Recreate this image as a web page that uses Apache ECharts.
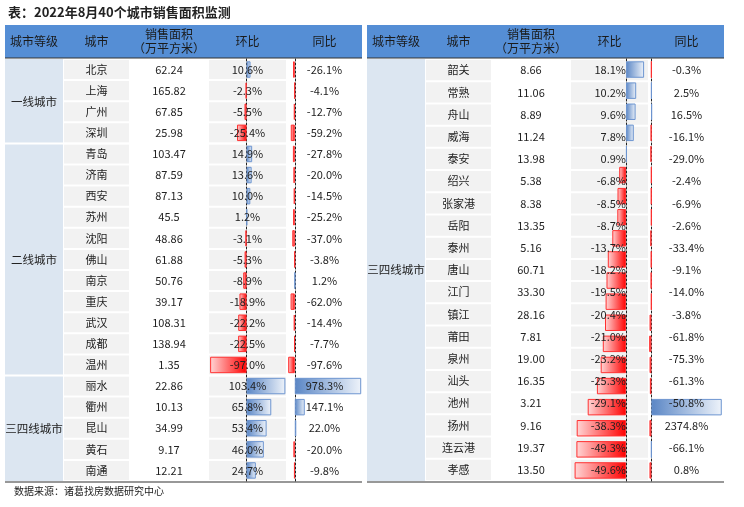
<!DOCTYPE html>
<html><head><meta charset="utf-8">
<script src="https://cdn.jsdelivr.net/npm/echarts@6/dist/echarts.min.js"></script>
<style>body{margin:0;background:#fff}#c{width:744px;height:507px}</style>
</head><body><div id="c"></div>
<script>
// 左表
const leftLevels = [['一线城市', 4], ['二线城市', 11], ['三四线城市', 5]];
const leftCities = ['北京','上海','广州','深圳','青岛','济南','西安','苏州','沈阳','佛山','南京','重庆','武汉','成都','温州','丽水','衢州','昆山','黄石','南通'];
const leftArea = ['62.24','165.82','67.85','25.98','103.47','87.59','87.13','45.5','48.86','61.88','50.76','39.17','108.31','138.94','1.35','22.86','10.13','34.99','9.17','12.21'];
const leftMom = [10.6,-2.3,-5.5,-25.4,14.9,13.6,10.0,1.2,-3.1,-5.3,-8.9,-18.9,-22.2,-22.5,-97.0,103.4,65.8,53.4,46.0,24.7];
const leftYoy = [-26.1,-4.1,-12.7,-59.2,-27.8,-20.0,-14.5,-25.2,-37.0,-3.8,1.2,-62.0,-14.4,-7.7,-97.6,978.3,147.1,22.0,-20.0,-9.8];
// 右表
const rightLevels = [['三四线城市', 19]];
const rightCities = ['韶关','常熟','舟山','威海','泰安','绍兴','张家港','岳阳','泰州','唐山','江门','镇江','莆田','泉州','汕头','池州','扬州','连云港','孝感','芜湖'].slice(0,19);
const rightArea = ['8.66','11.06','8.89','11.24','13.98','5.38','8.38','13.35','5.16','60.71','33.30','28.16','7.81','19.00','16.35','3.21','9.16','19.37','13.50','7.33'];
const rightMom = [18.1,10.2,9.6,7.8,0.9,-6.8,-8.5,-8.7,-13.7,-18.2,-19.5,-20.4,-21.0,-23.2,-25.3,-29.1,-38.3,-49.3,-49.6,-51.4];
const rightYoy = [-0.3,2.5,16.5,-16.1,-29.0,-2.4,-6.9,-2.6,-33.4,-9.1,-14.0,-3.8,-61.8,-75.3,-61.3,-50.8,2374.8,-66.1,0.8,-64.5];
const rightCityList = ['韶关','常熟','舟山','威海','泰安','绍兴','张家港','岳阳','泰州','唐山','江门','镇江','莆田','泉州','汕头','池州','扬州','连云港','孝感','芜湖'];
const headers = ['城市等级','城市','销售面积\n（万平方米）','环比','同比'];

const font = '"Noto Sans CJK SC", sans-serif';
const TOP = 59, BOTTOM = 481;

function tableGraphic(x0, cols, levels, cities, area, mom, yoy, momLabelAlign) {
  const g = [];
  const n = cities.length, rh = (BOTTOM - TOP) / n;
  const bg = ['#dce6f1', '#f2f2f2', '#ffffff', '#f2f2f2', '#ffffff'];
  let x = x0;
  const xs = cols.map(w => { const v = x; x += w; return v; });
  const W = x - x0;
  // header
  g.push({type:'rect', shape:{x:x0, y:25, width:W, height:33}, style:{fill:'#558ed5'}});
  headers.forEach((h, i) => g.push({type:'text', x:xs[i] + cols[i]/2, y:41,
    style:{text:h, font:'12px ' + font, fill:'#1a1a1a', align:'center', verticalAlign:'middle', lineHeight:14}}));
  g.push({type:'line', shape:{x1:x0, y1:58, x2:x0+W, y2:58}, style:{stroke:'#333', lineWidth:1.2}});
  // cells
  for (let r = 0; r < n; r++) {
    const y = TOP + r * rh;
    for (let c = 1; c < 5; c++) {
      g.push({type:'rect', shape:{x:xs[c]+1, y:y+1, width:cols[c]-2, height:rh-2}, style:{fill:bg[c]}});
    }
    const cy = y + rh/2;
    const t = (s, cx, al) => g.push({type:'text', x:cx, y:cy, z:10,
      style:{text:s, font:'11px ' + font, fill:'#222', align:al || 'center', verticalAlign:'middle'}});
    t(cities[r], xs[1] + cols[1]/2);
    t(area[r], xs[2] + cols[2]/2);
    if (momLabelAlign) t(mom[r].toFixed(1) + '%', momLabelAlign, 'right');
    else t(mom[r].toFixed(1) + '%', xs[3] + cols[3]/2);
    t(yoy[r].toFixed(1) + '%', xs[4] + cols[4]/2);
  }
  // level merged cells
  let r0 = 0;
  levels.forEach(([name, k]) => {
    const y = TOP + r0 * rh;
    g.push({type:'rect', shape:{x:x0, y:y, width:cols[0], height:k*rh}, style:{fill:'#dce6f1'}});
    if (r0 > 0) g.push({type:'line', shape:{x1:x0, y1:y, x2:x0+W, y2:y}, style:{stroke:'#fff', lineWidth:2}});
    g.push({type:'text', x:x0 + cols[0]/2, y:y + k*rh/2,
      style:{text:name, font:'11.5px ' + font, fill:'#222', align:'center', verticalAlign:'middle'}});
    r0 += k;
  });
  g.push({type:'line', shape:{x1:x0, y1:BOTTOM+1, x2:x0+W, y2:BOTTOM+1}, style:{stroke:'#333', lineWidth:1.2}});
  return g;
}

const blueGrad = new echarts.graphic.LinearGradient(0,0,1,0,[{offset:0,color:'#5a86c5'},{offset:1,color:'#eef3fa'}]);
const redGrad = new echarts.graphic.LinearGradient(0,0,1,0,[{offset:0,color:'#ffd6d6'},{offset:1,color:'#ff0000'}]);
const barData = arr => arr.map(v => ({value:v, itemStyle: v >= 0
  ? {color:blueGrad, borderColor:'#6d95d0', borderWidth:1}
  : {color:redGrad, borderColor:'#ff3030', borderWidth:1}}));

const grids = [], xAxes = [], yAxes = [], series = [];
function barGrid(left, width, min, max, data, n) {
  const i = grids.length;
  grids.push({left:left, width:width, top:TOP, height:BOTTOM-TOP});
  xAxes.push({type:'value', gridIndex:i, min:min, max:max, show:false});
  yAxes.push({type:'category', gridIndex:i, inverse:true, data:data.map((_, k) => k),
    axisLabel:{show:false}, axisTick:{show:false},
    axisLine:{show:true, onZero:true, lineStyle:{color:'#222', type:[2,2], width:1}}});
  series.push({type:'bar', xAxisIndex:i, yAxisIndex:i, data:barData(data), barWidth:'78%', z:5});
}
barGrid(209, 77, -100, 105, leftMom);
barGrid(288, 74, -100, 990, leftYoy);
barGrid(571, 76, -55, 21, rightMom);
barGrid(649, 75, -80, 2450, rightYoy);

const graphic = [
  {type:'text', x:8, y:12, style:{text:'表：2022年8月40个城市销售面积监测', font:'bold 13px ' + font, fill:'#222', verticalAlign:'middle'}},
  {type:'text', x:14, y:491, style:{text:'数据来源：诸葛找房数据研究中心', font:'10px ' + font, fill:'#222', verticalAlign:'middle'}},
  ...tableGraphic(5, [58, 67, 78, 79, 75], leftLevels, leftCities, leftArea, leftMom, leftYoy, null),
  ...tableGraphic(367, [58, 67, 78, 79, 75], rightLevels, rightCityList.slice(0,19), rightArea.slice(0,19), rightMom.slice(0,19), rightYoy.slice(0,19), 626)
].map(o => Object.assign({z:-1, silent:true}, o));

const chart = echarts.init(document.getElementById('c'));
chart.setOption({animation:false, grid:grids, xAxis:xAxes, yAxis:yAxes, series:series, graphic:graphic});
</script></body></html>
